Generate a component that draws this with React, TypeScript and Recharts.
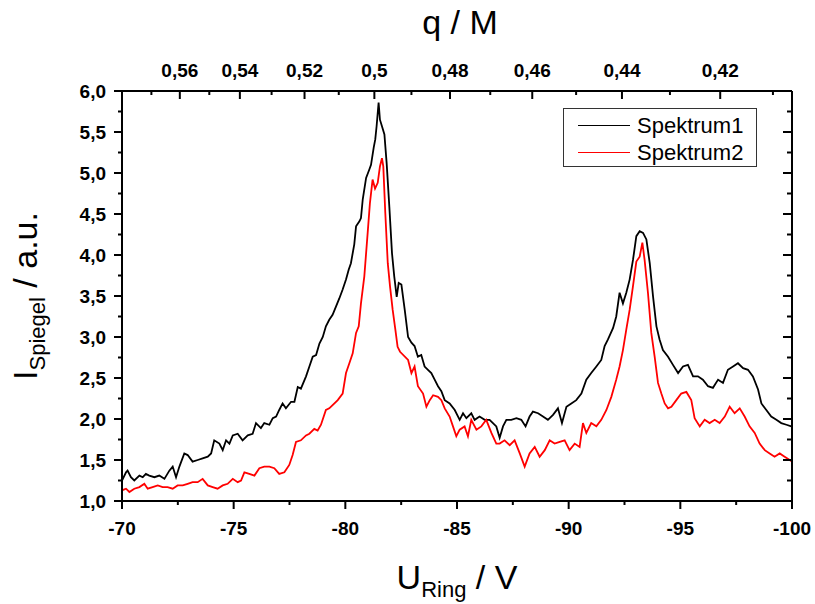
import { Line, LineChart, XAxis, YAxis } from "recharts";

// Ring voltage (V) and mirror intensity (a.u.)
const uSpektrum1 = [
  -70.0, -70.18, -70.25, -70.4, -70.55, -70.78, -70.93, -71.07, -71.22, -71.45, -71.67, -71.9, -72.12, -72.27,
  -72.42, -72.57, -72.79, -72.94, -73.16, -73.39, -73.61, -73.84, -73.99, -74.13, -74.36, -74.51, -74.66, -74.81,
  -74.96, -75.18, -75.4, -75.63, -75.85, -76.0, -76.22, -76.37, -76.6, -76.75, -76.9, -77.04, -77.19, -77.34,
  -77.57, -77.72, -77.87, -78.01, -78.24, -78.39, -78.54, -78.69, -78.84, -78.99, -79.13, -79.28, -79.43, -79.58,
  -79.73, -79.88, -80.03, -80.15, -80.25, -80.4, -80.48, -80.63, -80.7, -80.78, -80.93, -81.07, -81.15, -81.27,
  -81.34, -81.4, -81.49, -81.55, -81.64, -81.75, -81.85, -81.97, -82.09, -82.19, -82.3, -82.39, -82.51, -82.66,
  -82.81, -82.96, -83.1, -83.25, -83.4, -83.55, -83.7, -83.85, -84.0, -84.15, -84.3, -84.45, -84.67, -84.9,
  -85.12, -85.27, -85.42, -85.64, -85.79, -86.01, -86.24, -86.46, -86.61, -86.76, -86.91, -87.06, -87.21, -87.43,
  -87.66, -87.88, -88.07, -88.25, -88.4, -88.63, -88.85, -89.07, -89.3, -89.52, -89.7, -89.9, -90.12, -90.34,
  -90.57, -90.79, -91.01, -91.24, -91.46, -91.61, -91.76, -91.99, -92.13, -92.28, -92.43, -92.58, -92.73, -92.88,
  -93.03, -93.18, -93.33, -93.48, -93.63, -93.78, -93.93, -94.07, -94.22, -94.45, -94.67, -94.9, -95.12, -95.34,
  -95.57, -95.79, -96.01, -96.24, -96.46, -96.69, -96.91, -97.13, -97.36, -97.58, -97.81, -98.03, -98.25, -98.48,
  -98.63, -98.85, -99.07, -99.3, -99.52, -99.75, -99.97,
];
const iSpektrum1 = [
  1.25, 1.35, 1.37, 1.29, 1.25, 1.31, 1.29, 1.33, 1.31, 1.29, 1.31, 1.27, 1.37, 1.42,
  1.29, 1.42, 1.58, 1.56, 1.48, 1.5, 1.52, 1.54, 1.58, 1.74, 1.7, 1.62, 1.74, 1.7,
  1.8, 1.82, 1.74, 1.8, 1.82, 1.95, 1.89, 1.95, 1.93, 2.01, 2.03, 2.11, 2.19, 2.13,
  2.21, 2.21, 2.39, 2.37, 2.52, 2.64, 2.76, 2.78, 2.92, 3.0, 3.13, 3.21, 3.27, 3.37,
  3.47, 3.58, 3.7, 3.82, 3.9, 4.13, 4.35, 4.41, 4.45, 4.68, 4.94, 5.04, 5.1, 5.31,
  5.41, 5.57, 5.86, 5.65, 5.57, 5.47, 5.12, 4.59, 4.02, 3.74, 3.49, 3.66, 3.64, 3.33,
  3.0, 2.93, 2.89, 2.76, 2.78, 2.64, 2.6, 2.56, 2.48, 2.4, 2.34, 2.23, 2.19, 2.11,
  1.99, 2.07, 2.01, 2.07, 1.99, 2.03, 1.99, 1.99, 1.95, 1.91, 1.77, 1.91, 1.99, 1.99,
  2.01, 1.99, 1.91, 2.03, 2.09, 2.07, 2.03, 1.99, 2.05, 2.13, 1.95, 2.15, 2.19, 2.23,
  2.31, 2.48, 2.56, 2.64, 2.72, 2.89, 2.97, 3.11, 3.25, 3.54, 3.41, 3.54, 3.7, 3.94,
  4.23, 4.29, 4.27, 4.19, 3.9, 3.49, 3.13, 2.97, 2.84, 2.76, 2.66, 2.56, 2.64, 2.66,
  2.52, 2.52, 2.48, 2.4, 2.38, 2.48, 2.44, 2.6, 2.64, 2.68, 2.62, 2.6, 2.52, 2.36,
  2.19, 2.11, 2.03, 1.99, 1.95, 1.93, 1.91,
];

const uSpektrum2 = [
  -70.0, -70.18, -70.33, -70.55, -70.78, -71.0, -71.15, -71.37, -71.6, -71.82, -72.04, -72.27, -72.49, -72.72,
  -72.94, -73.16, -73.39, -73.61, -73.84, -74.06, -74.28, -74.51, -74.73, -74.96, -75.18, -75.33, -75.48, -75.7,
  -75.93, -76.15, -76.37, -76.6, -76.82, -77.04, -77.27, -77.49, -77.64, -77.79, -78.01, -78.24, -78.39, -78.61,
  -78.76, -78.91, -79.13, -79.28, -79.43, -79.66, -79.88, -80.03, -80.18, -80.33, -80.48, -80.6, -80.7, -80.85,
  -81.0, -81.1, -81.22, -81.33, -81.45, -81.55, -81.64, -81.7, -81.79, -81.9, -82.0, -82.12, -82.24, -82.34,
  -82.45, -82.81, -82.96, -83.1, -83.25, -83.48, -83.63, -83.78, -83.93, -84.15, -84.3, -84.45, -84.67, -84.82,
  -84.97, -85.12, -85.34, -85.49, -85.64, -85.87, -86.09, -86.31, -86.54, -86.76, -86.91, -87.13, -87.36, -87.58,
  -87.81, -88.03, -88.25, -88.48, -88.7, -88.93, -89.15, -89.37, -89.6, -89.82, -90.04, -90.27, -90.49, -90.64,
  -90.79, -91.01, -91.24, -91.46, -91.69, -91.91, -92.13, -92.28, -92.43, -92.58, -92.73, -92.88, -93.03, -93.18,
  -93.3, -93.4, -93.55, -93.7, -93.85, -94.0, -94.15, -94.3, -94.45, -94.6, -94.82, -95.04, -95.27, -95.49,
  -95.64, -95.87, -96.09, -96.31, -96.54, -96.76, -96.99, -97.21, -97.43, -97.66, -97.88, -98.1, -98.33, -98.55,
  -98.78, -99.0, -99.22, -99.45, -99.67, -99.9, -100.0,
];
const iSpektrum2 = [
  1.13, 1.15, 1.11, 1.15, 1.17, 1.21, 1.15, 1.17, 1.19, 1.17, 1.17, 1.15, 1.19, 1.19,
  1.21, 1.23, 1.23, 1.27, 1.19, 1.17, 1.15, 1.19, 1.21, 1.27, 1.23, 1.25, 1.35, 1.33,
  1.31, 1.4, 1.42, 1.42, 1.4, 1.33, 1.35, 1.44, 1.56, 1.72, 1.74, 1.8, 1.82, 1.88,
  1.86, 1.93, 2.11, 2.13, 2.17, 2.23, 2.31, 2.56, 2.68, 2.8, 3.05, 3.13, 3.41, 3.74,
  4.27, 4.63, 4.92, 4.81, 4.88, 5.08, 5.18, 5.08, 4.51, 3.9, 3.62, 3.33, 3.09, 2.88,
  2.82, 2.72, 2.56, 2.64, 2.4, 2.31, 2.15, 2.23, 2.29, 2.27, 2.23, 2.13, 2.03, 1.91,
  1.79, 1.87, 1.91, 1.79, 1.99, 1.87, 1.91, 1.99, 1.83, 1.7, 1.7, 1.74, 1.68, 1.74,
  1.58, 1.42, 1.58, 1.66, 1.54, 1.62, 1.74, 1.7, 1.72, 1.74, 1.62, 1.7, 1.66, 1.95,
  1.83, 1.95, 1.91, 1.99, 2.11, 2.27, 2.48, 2.64, 2.84, 3.09, 3.33, 3.62, 3.92, 3.98,
  4.15, 3.94, 3.54, 3.05, 2.76, 2.44, 2.31, 2.19, 2.13, 2.15, 2.23, 2.31, 2.33, 2.23,
  2.01, 1.91, 1.99, 1.95, 1.99, 1.95, 2.03, 2.15, 2.07, 2.13, 2.03, 1.91, 1.83, 1.7,
  1.62, 1.58, 1.54, 1.58, 1.54, 1.5, 1.48,
];

const uMajorTicks = [-70, -75, -80, -85, -90, -95, -100];
const uMinorTicks = [-72.5, -77.5, -82.5, -87.5, -92.5, -97.5];
const iMajorTicks = [1, 1.5, 2, 2.5, 3, 3.5, 4, 4.5, 5, 5.5, 6];
const iMinorTicks = [1.25, 1.75, 2.25, 2.75, 3.25, 3.75, 4.25, 4.75, 5.25, 5.75];
const qMajorTicks = [0.56, 0.54, 0.52, 0.5, 0.48, 0.46, 0.44, 0.42];
const qMinorTicks = [0.57, 0.55, 0.53, 0.51, 0.49, 0.47, 0.45, 0.43, 0.41];

// top axis: q/M = K / |U|
const Q_TIMES_U = 40.65;

const spektrum1 = uSpektrum1.map((u, i) => ({ u, v: iSpektrum1[i] }));
const spektrum2 = uSpektrum2.map((u, i) => ({ u, v: iSpektrum2[i] }));

const uTicks = [...uMajorTicks, ...uMinorTicks];
const iTicks = [...iMajorTicks, ...iMinorTicks];
const qTicksAsU = [...qMajorTicks, ...qMinorTicks].map((q) => -Q_TIMES_U / q);

const FONT = '"Liberation Sans", Arial, sans-serif';
const tickText = { fontFamily: FONT, fontSize: 19, fontWeight: 700, fill: "#000" } as const;

function BottomTick({ x, y, payload }: any) {
  const major = uMajorTicks.includes(payload.value);
  return (
    <g>
      <line x1={x} y1={y} x2={x} y2={y + (major ? 8 : 4)} stroke="#000" strokeWidth={2} />
      {major && (
        <text x={x} y={y + 34} textAnchor="middle" {...tickText}>
          {payload.value}
        </text>
      )}
    </g>
  );
}

function TopTick({ x, y, payload }: any) {
  const q = Math.round((Q_TIMES_U / -payload.value) * 100) / 100;
  const major = qMajorTicks.includes(q);
  return (
    <g>
      <line x1={x} y1={y} x2={x} y2={y + (major ? 8 : 4)} stroke="#000" strokeWidth={2} />
      {major && (
        <text x={x} y={y - 14} textAnchor="middle" {...tickText}>
          {String(q).replace(".", ",")}
        </text>
      )}
    </g>
  );
}

function LeftTick({ x, y, payload }: any) {
  const major = iMajorTicks.includes(payload.value);
  return (
    <g>
      <line x1={x} y1={y} x2={x - (major ? 8 : 4)} y2={y} stroke="#000" strokeWidth={2} />
      {major && (
        <text x={x - 16} y={y + 7} textAnchor="end" {...tickText}>
          {payload.value.toFixed(1).replace(".", ",")}
        </text>
      )}
    </g>
  );
}

function RightTick({ x, y, payload }: any) {
  const major = iMajorTicks.includes(payload.value);
  return <line x1={x} y1={y} x2={x - (major ? 9 : 5)} y2={y} stroke="#000" strokeWidth={2} />;
}

const axisLine = { stroke: "#000", strokeWidth: 2 };

export default function App() {
  return (
    <div style={{ position: "absolute", left: 0, top: 0, width: 815, height: 604, background: "#fff", fontFamily: FONT }}>
      <LineChart width={815} height={604} margin={{ top: 0, right: 22, bottom: 0, left: 62 }}>
        <XAxis
          xAxisId="bottom"
          dataKey="u"
          type="number"
          domain={[-100, -70]}
          allowDataOverflow
          reversed
          ticks={uTicks}
          interval={0}
          height={103}
          tickSize={0}
          tickMargin={0}
          tickLine={false}
          axisLine={axisLine}
          tick={(p: any) => <BottomTick {...p} />}
        />
        <XAxis
          xAxisId="top"
          orientation="top"
          dataKey="u"
          type="number"
          domain={[-100, -70]}
          allowDataOverflow
          reversed
          ticks={qTicksAsU}
          interval={0}
          height={91}
          tickSize={0}
          tickMargin={0}
          tickLine={false}
          axisLine={axisLine}
          tick={(p: any) => <TopTick {...p} />}
        />
        <YAxis
          yAxisId="left"
          type="number"
          domain={[1, 6]}
          allowDataOverflow
          ticks={iTicks}
          interval={0}
          width={60}
          tickSize={0}
          tickMargin={0}
          tickLine={false}
          axisLine={axisLine}
          tick={(p: any) => <LeftTick {...p} />}
        />
        <YAxis
          yAxisId="right"
          orientation="right"
          type="number"
          domain={[1, 6]}
          allowDataOverflow
          ticks={iTicks}
          interval={0}
          width={1}
          tickSize={0}
          tickMargin={0}
          tickLine={false}
          axisLine={axisLine}
          tick={(p: any) => <RightTick {...p} />}
        />
        <Line
          xAxisId="bottom"
          yAxisId="left"
          data={spektrum1}
          dataKey="v"
          type="linear"
          stroke="#000"
          strokeWidth={1.8}
          dot={false}
          isAnimationActive={false}
        />
        <Line
          xAxisId="bottom"
          yAxisId="left"
          data={spektrum2}
          dataKey="v"
          type="linear"
          stroke="#ff0000"
          strokeWidth={1.8}
          dot={false}
          isAnimationActive={false}
        />
      </LineChart>

      <svg width={815} height={604} style={{ position: "absolute", left: 0, top: 0, pointerEvents: "none" }}>
        <text x={460} y={34} textAnchor="middle" fontFamily={FONT} fontSize={34} fill="#000">
          q / M
        </text>
        <text x={457} y={589} textAnchor="middle" fontFamily={FONT} fontSize={34} fill="#000">
          U
          <tspan fontSize={22} dy={8}>
            Ring
          </tspan>
          <tspan dy={-8}> / V</tspan>
        </text>
        <text transform="translate(37,296) rotate(-90)" textAnchor="middle" fontFamily={FONT} fontSize={34} fill="#000">
          I
          <tspan fontSize={22} dy={8}>
            Spiegel
          </tspan>
          <tspan dy={-8}> / a.u.</tspan>
        </text>
      </svg>

      <div
        style={{
          position: "absolute",
          left: 563,
          top: 108,
          width: 194,
          height: 59,
          border: "1px solid #333",
          background: "#fff",
          fontSize: 22,
          lineHeight: "27px",
          paddingTop: 3,
          boxSizing: "border-box",
        }}
      >
        {[
          { name: "Spektrum1", color: "#000" },
          { name: "Spektrum2", color: "#ff0000" },
        ].map((s) => (
          <div key={s.name} style={{ display: "flex", alignItems: "center", height: 27 }}>
            <div style={{ marginLeft: 14, width: 52, height: 0, borderTop: `1.5px solid ${s.color}` }} />
            <span style={{ marginLeft: 7 }}>{s.name}</span>
          </div>
        ))}
      </div>
    </div>
  );
}
